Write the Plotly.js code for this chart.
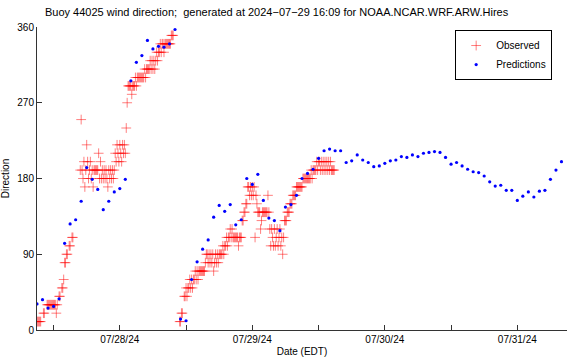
<!DOCTYPE html>
<html>
<head>
<meta charset="utf-8">
<script src="https://cdn.plot.ly/plotly-3.0.1.min.js"></script>
<style>html,body{margin:0;padding:0;background:#fff;}#chart{width:568px;height:362px;}</style>
</head>
<body>
<div id="chart"></div>
<script>
// Observed wind direction (deg), one reading every 10 minutes starting 2024-07-27 09:00 EDT (null = no report)
const obsStart = '2024-07-27T09:00:00';
const obsStepMinutes = 10;
const obsDirs = [
  10,10,10,10,10,null,null,20,20,null,
  null,30,30,30,30,30,30,30,30,30,
  30,20,30,null,40,40,null,50,50,60,
  80,80,90,90,null,100,100,null,110,110,
  null,null,null,null,null,null,null,190,250,190,
  180,200,170,190,220,200,180,190,200,180,
  190,170,190,190,190,190,190,210,180,200,
  180,190,180,190,180,190,180,170,190,180,
  190,180,190,180,190,210,200,220,210,200,
  220,210,200,220,210,220,210,240,270,290,
  290,290,290,280,290,290,290,300,290,300,
  300,300,300,300,300,300,300,310,300,310,
  310,310,310,320,310,320,310,320,310,320,
  330,320,330,330,340,330,340,340,330,340,
  340,340,340,340,340,340,350,350,350,null,
  null,null,null,null,null,10,10,20,20,null,
  40,40,50,40,50,50,60,50,60,50,
  60,60,70,60,70,60,70,70,70,70,
  70,70,70,80,90,90,80,90,80,90,
  80,90,70,80,90,80,90,80,90,90,
  90,90,100,90,100,100,110,100,110,110,
  120,110,120,110,110,110,110,110,110,100,
  110,110,110,130,130,140,140,150,150,170,
  170,160,170,160,170,160,170,110,160,150,
  140,140,140,120,130,140,140,140,140,140,
  140,160,140,120,100,120,110,100,120,100,
  110,120,100,110,120,100,110,90,110,130,
  130,130,140,140,140,150,150,150,160,160,
  160,160,170,170,170,170,170,170,170,180,
  180,180,180,180,180,180,180,180,190,180,
  190,190,190,190,200,190,200,200,190,200,
  190,200,190,200,190,200,190,200,190,200,
  190,190,190,190
];

// Model predictions (deg), hourly starting 2024-07-27 09:00 EDT
const predStart = '2024-07-27T09:00:00';
const predStepMinutes = 60;
const predDirs = [
  31,36,26,28,37,103,126,131,153,193,
  179,167,143,153,164,168,179,296,318,326,
  344,334,337,336,340,357,13,11,60,81,
  96,107,134,148,141,149,125,131,180,173,
  185,154,133,130,118,146,149,160,180,186,
  191,204,213,215,213,213,199,201,208,202,
  199,194,195,198,201,202,206,205,208,206,
  210,211,212,211,205,197,199,195,191,188,
  187,183,176,171,172,166,166,154,159,164,
  158,165,166,179,190,200
];

const xRange = ['2024-07-27 09:00', '2024-07-31 09:00'];
const tickDates = ['2024-07-27 12:00','2024-07-28 00:00','2024-07-28 12:00','2024-07-29 00:00',
                   '2024-07-29 12:00','2024-07-30 00:00','2024-07-30 12:00','2024-07-31 00:00'];
const tickLabels = ['', '07/28/24', '', '07/29/24', '', '07/30/24', '', '07/31/24'];
const yTicks = [0, 90, 180, 270, 360];

function timeAxis(start, stepMin, n) {
  const base = Date.parse(start + 'Z');
  const out = [];
  for (let i = 0; i < n; i++) {
    out.push(new Date(base + i * stepMin * 60000).toISOString().slice(0, 16).replace('T', ' '));
  }
  return out;
}

const FONT = 'Liberation Sans, Arial, Helvetica, sans-serif';

const traces = [
  {
    type: 'scatter', mode: 'markers', name: 'Observed',
    x: timeAxis(obsStart, obsStepMinutes, obsDirs.length), y: obsDirs,
    marker: {symbol: 'cross-thin-open', size: 7, color: 'rgba(255,0,0,0.5)',
             line: {color: 'rgba(255,0,0,0.5)', width: 1}},
    cliponaxis: true
  },
  {
    type: 'scatter', mode: 'markers', name: 'Predictions',
    x: timeAxis(predStart, predStepMinutes, predDirs.length), y: predDirs,
    marker: {symbol: 'circle', size: 3.2, color: '#0000ff', line: {width: 0}},
    cliponaxis: true
  }
];

const layout = {
  width: 568, height: 362,
  margin: {l: 37, r: 1, t: 27, b: 32, pad: 0},
  paper_bgcolor: '#ffffff', plot_bgcolor: '#ffffff',
  font: {family: FONT, size: 10, color: '#000'},
  showlegend: true,
  title: {
    text: 'Buoy 44025 wind direction;  generated at 2024\u221207\u221229 16:09 for NOAA.NCAR.WRF.ARW.Hires',
    font: {family: FONT, size: 11, color: '#000'},
    xref: 'container', x: 0.487, xanchor: 'center',
    yref: 'container', y: 0.967, yanchor: 'middle'
  },
  xaxis: {
    type: 'date', range: xRange, autorange: false,
    tickmode: 'array', tickvals: tickDates, ticktext: tickLabels,
    ticks: 'inside', ticklen: 5, tickwidth: 1, tickcolor: '#333',
    showline: true, linecolor: '#333', linewidth: 1, mirror: false,
    showgrid: false, zeroline: false,
    tickfont: {family: FONT, size: 10, color: '#000'},
    title: {text: 'Date (EDT)', font: {family: FONT, size: 10, color: '#000'}, standoff: 3},
    fixedrange: true
  },
  yaxis: {
    range: [0, 360], autorange: false,
    tickmode: 'array', tickvals: yTicks,
    ticks: 'inside', ticklen: 5, tickwidth: 1, tickcolor: '#333',
    showline: true, linecolor: '#333', linewidth: 1, mirror: false,
    showgrid: false, zeroline: false,
    tickfont: {family: FONT, size: 10, color: '#000'},
    title: {text: 'Direction', font: {family: FONT, size: 10, color: '#000'}, standoff: 6},
    fixedrange: true
  },
  legend: {
    x: 0.972, xanchor: 'right', y: 0.99, yanchor: 'top',
    bordercolor: '#000', borderwidth: 1, bgcolor: '#fff',
    font: {family: FONT, size: 10, color: '#000'},
    itemwidth: 30, tracegroupgap: 0
  }
};

Plotly.newPlot('chart', traces, layout, {staticPlot: true, displayModeBar: false});
</script>
</body>
</html>
